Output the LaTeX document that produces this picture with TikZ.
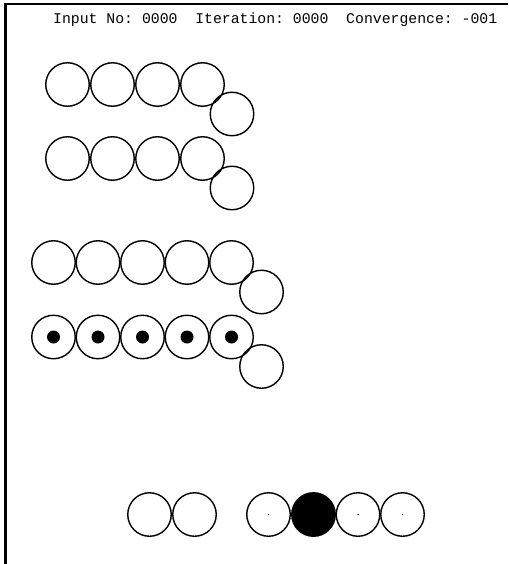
\documentclass[tikz,border=0pt]{standalone}
\usepackage{fontspec}
\setmonofont{Liberation Mono}
\usepackage{tikz}

\tikzset{
  unit/.style={circle, draw, line width=1.4pt, minimum size=43.5pt, inner sep=0pt},
  fired/.style={unit, fill=black},
  spot/.style={circle, fill=black, minimum size=13pt, inner sep=0pt},
  speck/.style={circle, fill=black, minimum size=1.5pt, inner sep=0pt}
}

\begin{document}
\begin{tikzpicture}[x=1pt,y=-1pt]
  \useasboundingbox (0,0) rectangle (508,564);
  \coordinate (TL) at (5.5,4);
  \coordinate (BL) at (5.5,564);
  \coordinate (TR) at (508,4);
  \draw [line width=2.2pt] (BL) -- (TL) -- (TR);

  \node (Status) [anchor=base west, inner sep=0pt, font=\ttfamily\fontsize{14.8}{16}\selectfont]
    at (53,24) {Input No:\ 0000\ \ Iteration:\ 0000\ \ Convergence:\ -001};

  % first two patterns
  \foreach \r/\y in {a/84.5, b/158.5} {
    \foreach \i in {0,...,3}
      \node [unit] (\r\i) at (67.5+45*\i,\y) {};
    \node [unit] (\r x) at (232,\y+29.5) {};
  }

  % hidden layer
  \foreach \r/\y in {c/262.5, d/337} {
    \foreach \i in {0,...,4}
      \node [unit] (\r\i) at (53.5+44.5*\i,\y) {};
    \node [unit] (\r x) at (261.5,\y+29.5) {};
  }
  \foreach \i in {0,...,4}
    \node [spot] (s\i) at (d\i) {};

  % output
  \node [unit] (o1) at (149.5,514.5) {};
  \node [unit] (o2) at (194.5,514.5) {};
  \node [unit] (p1) at (268.5,514.5) {};
  \node [fired] (p2) at (313.5,514.5) {};
  \node [unit] (p3) at (358,514.5) {};
  \node [unit] (p4) at (402.5,514.5) {};
  \foreach \n in {p1,p3,p4}
    \node [speck] at (\n) {};
\end{tikzpicture}
\end{document}
